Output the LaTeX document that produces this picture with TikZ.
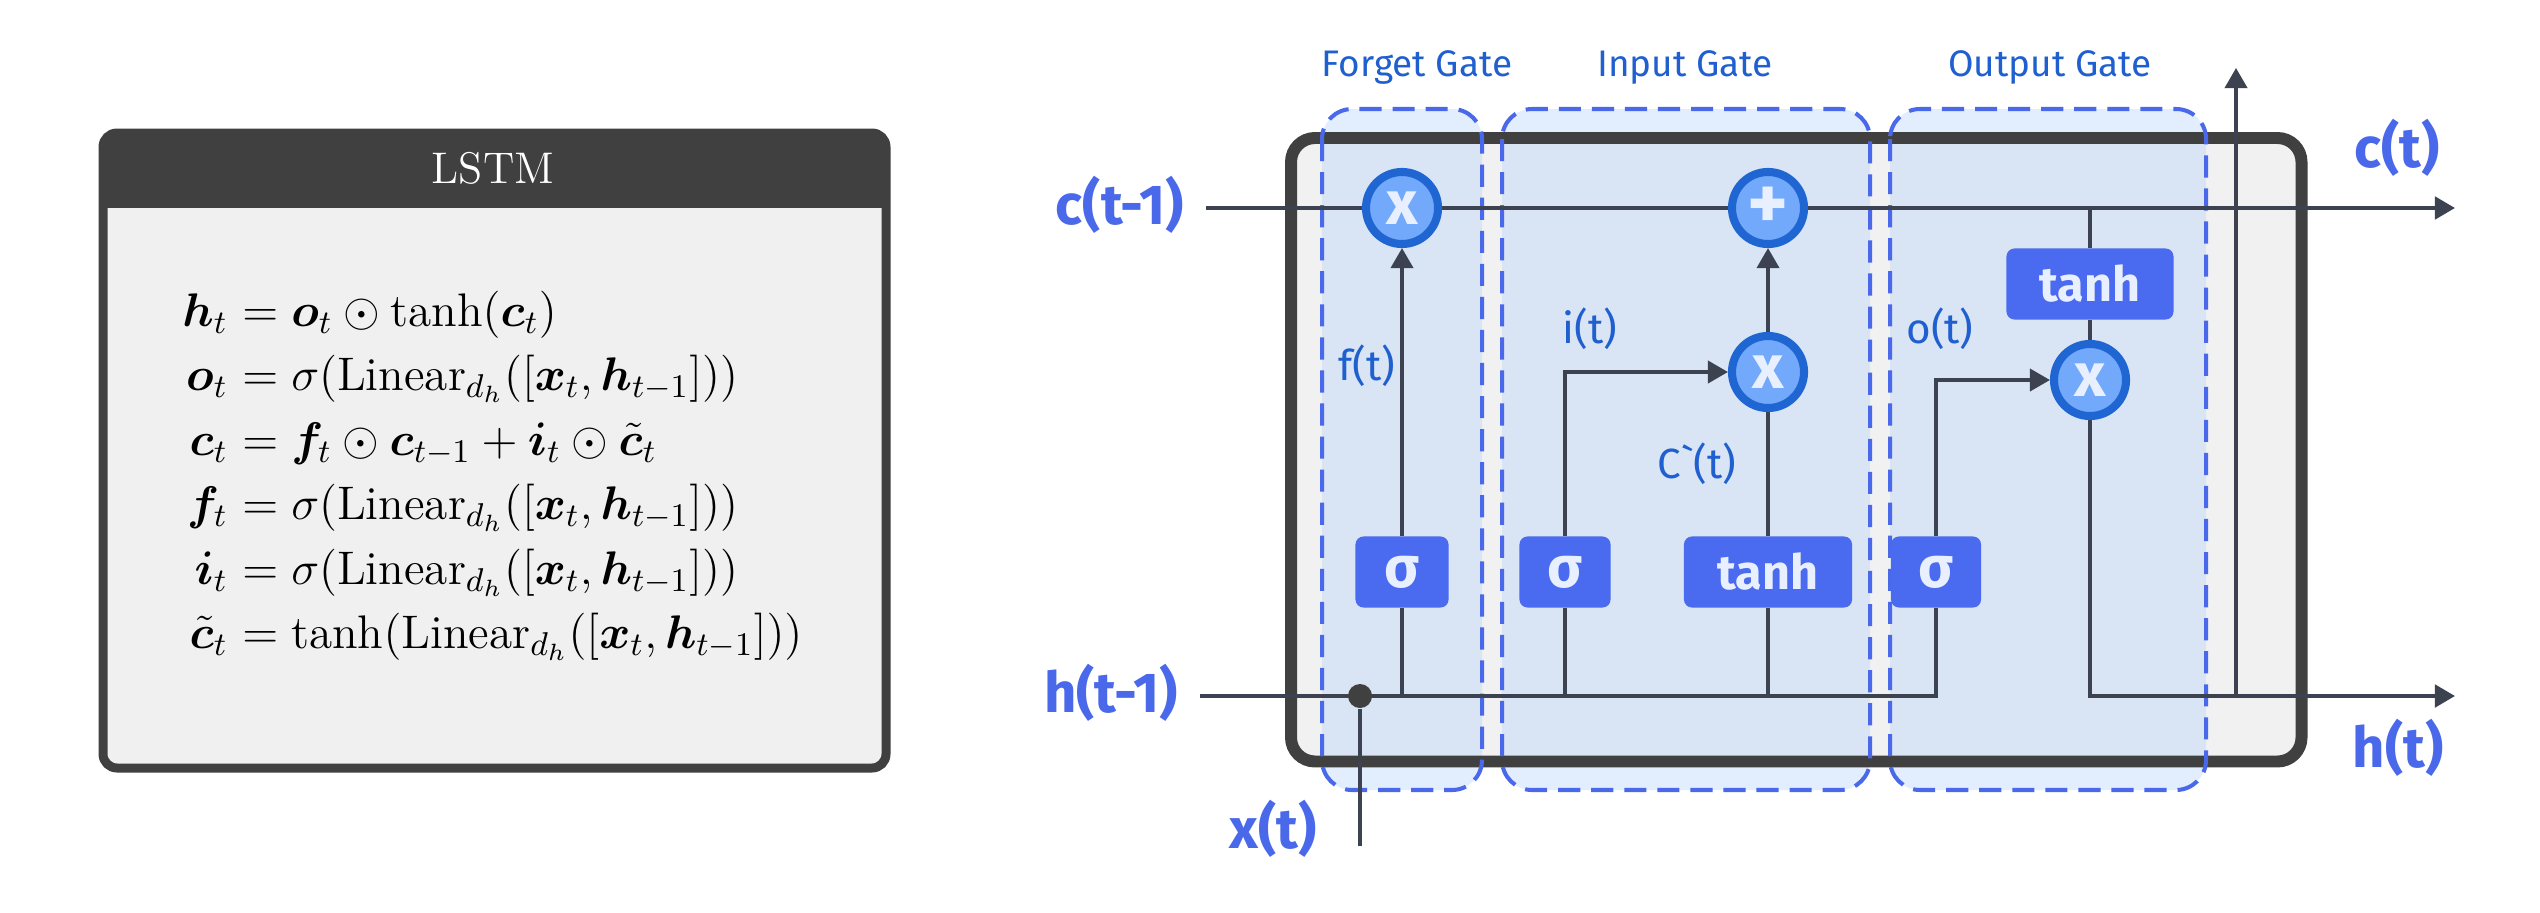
\RequirePackage{fix-cm}
\documentclass[tikz,border=0pt]{standalone}
\usepackage{amsmath,bm}
\usepackage{fontspec}
\newfontfamily\fira{Fira Sans}
\usetikzlibrary{arrows.meta}
\definecolor{dk}{HTML}{404040}
\definecolor{ln}{HTML}{3C4250}
\definecolor{mbg}{HTML}{F1F1F1}
\definecolor{pbg}{HTML}{F0F0F0}
\definecolor{lbl}{HTML}{4A68EA}
\definecolor{gtxt}{HTML}{1F5FCF}
\definecolor{sbox}{HTML}{4A6AEF}
\definecolor{cbord}{HTML}{1F66D3}
\definecolor{cfill}{HTML}{72A9FA}
\definecolor{wtxt}{HTML}{E8F0FF}
\definecolor{gfill}{RGB}{183,212,250}
\pgfdeclarelayer{back}
\pgfdeclarelayer{mid}
\pgfsetlayers{back,mid,main}
\tikzset{
  conn/.style={draw=ln, line width=1pt},
  mainln/.style={draw=ln, line width=1.2pt},
  arr/.style={-{Triangle[length=5.7pt,width=6.3pt]}},
  opcirc/.style={circle, draw=cbord, fill=cfill, line width=2.3pt, minimum size=0.72cm, inner sep=0pt, text=wtxt, font=\fira\bfseries\fontsize{17.5}{17.5}\selectfont},
  plustxt/.style={font=\fira\bfseries\fontsize{22}{22}\selectfont},
  fnbox/.style={rectangle, rounded corners=0.08cm, fill=sbox, minimum height=0.71cm, inner sep=0pt, text=wtxt, font=\fira\bfseries\fontsize{13.8}{13.8}\selectfont},
  sigtxt/.style={font=\fira\bfseries\fontsize{16.5}{16.5}\selectfont},
  gatebox/.style={draw=lbl, line width=1.15pt, dash pattern=on 6.3pt off 3.1pt, rounded corners=0.3cm},
  gatefill/.style={fill=gfill, fill opacity=0.4, rounded corners=0.3cm},
  gatelbl/.style={text=gtxt, font=\fira\fontsize{10.5}{12}\selectfont, anchor=base, inner sep=0pt},
  siglbl/.style={text=gtxt, font=\fira\fontsize{12}{14}\selectfont, anchor=base, inner sep=0pt},
  iolbl/.style={text=lbl, font=\fira\bfseries\fontsize{16}{18}\selectfont, anchor=base, inner sep=0pt},
  eql/.style={anchor=base east, inner sep=0pt, font=\fontsize{13.4}{16}\selectfont},
  eqr/.style={anchor=base west, inner sep=0pt, font=\fontsize{13.4}{16}\selectfont},
}
\begin{document}
\begin{tikzpicture}[x=0.01cm, y=-0.01cm]
\useasboundingbox (0,0) rectangle (2540,912);
% ---------------- left panel ----------------
\begin{pgfonlayer}{back}
\fill[white] (0,0) rectangle (2540,912);
\fill[pbg, rounded corners=0.14cm] (103,133) rectangle (886,768);
\begin{scope}
\clip (0,0) rectangle (1000,207);
\fill[dk, rounded corners=0.14cm] (103,133) rectangle (886,768);
\end{scope}
\draw[draw=dk, line width=2.56pt, rounded corners=0.14cm] (103,133) rectangle (886,768);
\end{pgfonlayer}
\node[anchor=base, inner sep=0pt, text=white, font=\fontsize{12.6}{14}\selectfont] (title) at (493,183.5) {LSTM};
\def\eqx{228.5}
\node[eql] (l1) at (\eqx,326) {$\bm{h}_t$};
\node[eqr] (r1) at (\eqx,326) {${}=\bm{o}_t\odot\tanh(\bm{c}_t)$};
\node[eql] (l2) at (\eqx,390.5) {$\bm{o}_t$};
\node[eqr] (r2) at (\eqx,390.5) {${}=\sigma(\mathrm{Linear}_{d_h}([\bm{x}_t,\bm{h}_{t-1}]))$};
\node[eql] (l3) at (\eqx,455) {$\bm{c}_t$};
\node[eqr] (r3) at (\eqx,455) {${}=\bm{f}_t\odot\bm{c}_{t-1}+\bm{i}_t\odot\tilde{\bm{c}}_t$};
\node[eql] (l4) at (\eqx,519.5) {$\bm{f}_t$};
\node[eqr] (r4) at (\eqx,519.5) {${}=\sigma(\mathrm{Linear}_{d_h}([\bm{x}_t,\bm{h}_{t-1}]))$};
\node[eql] (l5) at (\eqx,584) {$\bm{i}_t$};
\node[eqr] (r5) at (\eqx,584) {${}=\sigma(\mathrm{Linear}_{d_h}([\bm{x}_t,\bm{h}_{t-1}]))$};
\node[eql] (l6) at (\eqx,648.5) {$\tilde{\bm{c}}_t$};
\node[eqr] (r6) at (\eqx,648.5) {${}=\tanh(\mathrm{Linear}_{d_h}([\bm{x}_t,\bm{h}_{t-1}]))$};
% ---------------- right panel ----------------
\begin{pgfonlayer}{back}
\fill[mbg, rounded corners=0.24cm] (1291,138) rectangle (2301.5,761.5);
\fill[gatefill] (1322,109) rectangle (1482,790);
\fill[gatefill] (1502,109) rectangle (1870,790);
\fill[gatefill] (1890,109) rectangle (2206,790);
\draw[draw=dk, line width=3.4pt, rounded corners=0.24cm] (1291,138) rectangle (2301.5,761.5);
\draw[gatebox] (1322,109) rectangle (1482,790);
\draw[gatebox] (1502,109) rectangle (1870,790);
\draw[gatebox] (1890,109) rectangle (2206,790);
\end{pgfonlayer}
% gate titles
\node[gatelbl] (tf) at (1417,77) {Forget Gate};
\node[gatelbl] (ti) at (1685,77) {Input Gate};
\node[gatelbl] (to) at (2050,77) {Output Gate};
% operation circles
\node[opcirc] (fx) at (1402,208) {x};
\node[opcirc, plustxt] (plus) at (1768,208) {+};
\node[opcirc] (ix) at (1768,372) {x};
\node[opcirc] (ox) at (2090,380) {x};
% function boxes
\node[fnbox, sigtxt, minimum width=0.93cm] (fs) at (1402,572) {σ};
\node[fnbox, sigtxt, minimum width=0.91cm] (is) at (1565,572) {σ};
\node[fnbox, minimum width=1.68cm] (it) at (1768,572) {tanh};
\node[fnbox, sigtxt, minimum width=0.90cm] (os) at (1936,572) {σ};
\node[fnbox, minimum width=1.67cm] (ot) at (2090,284) {tanh};
% junction dot
\node[circle, fill=dk, minimum size=0.24cm, inner sep=0pt] (dot) at (1360,696) {};
% io labels
\node[iolbl] (lc0) at (1120,224) {c(t-1)};
\node[iolbl] (lh0) at (1111,712) {h(t-1)};
\node[iolbl] (lx) at (1273,848) {x(t)};
\node[iolbl] (lc1) at (2397,167) {c(t)};
\node[iolbl] (lh1) at (2398,767) {h(t)};
% signal labels
\node[siglbl] (lf) at (1367,380) {f(t)};
\node[siglbl] (li) at (1590,343) {i(t)};
\node[siglbl] (lo) at (1940,343) {o(t)};
\node[siglbl] (lct) at (1697,478) {C\textasciigrave(t)};
% coordinates
\coordinate (cin) at (1206,208);
\coordinate (cout) at (2455,208);
\coordinate (cj) at (2090,208);
\coordinate (hin) at (1200,696);
\coordinate (hout) at (2455,696);
\coordinate (xin) at (1360,846);
\coordinate (upstart) at (2236,696);
\coordinate (upend) at (2236,68);
% connectors
\begin{pgfonlayer}{mid}
\draw[mainln] (cin) -- (fx.west);
\draw[mainln] (fx.east) -- (plus.west);
\draw[mainln, arr] (plus.east) -- (cout);
\draw[conn] (cj) -- (ot.north);
\draw[conn] (ot.south) -- (ox.north);
\draw[mainln, arr] (ox.south) |- (hout);
\draw[mainln] (hin) -| (os.south);
\draw[conn] (xin) -- (dot);
\draw[conn] (fs.south |- dot) -- (fs.south);
\draw[conn, arr] (fs.north) -- (fx.south);
\draw[conn] (is.south |- dot) -- (is.south);
\draw[conn, arr] (is.north) |- (ix.west);
\draw[conn] (it.south |- dot) -- (it.south);
\draw[conn] (it.north) -- (ix.south);
\draw[conn, arr] (ix.north) -- (plus.south);
\draw[conn, arr] (os.north) |- (ox.west);
\draw[conn, arr] (upstart) -- (upend);
\end{pgfonlayer}
\end{tikzpicture}
\end{document}
